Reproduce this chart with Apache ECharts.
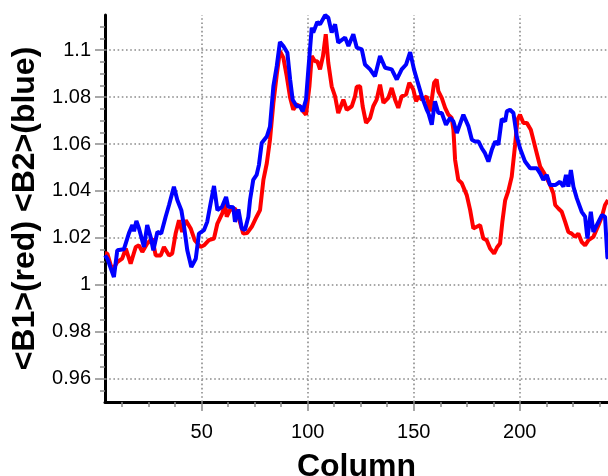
<!DOCTYPE html>
<html>
<head>
<meta charset="utf-8">
<script src="https://cdn.jsdelivr.net/npm/echarts@6/dist/echarts.min.js"></script>
<style>html,body{margin:0;padding:0;background:#fff}#c{width:608px;height:476px}</style>
</head>
<body>
<div id="c"></div>
<script>
// ---- data ----
const redCols = [4.4,5.5,7.8,10.2,12.5,14.2,16.5,18.9,20.4,22.0,24.3,26.7,28.3,30.7,32.2,34.6,36.1,37.7,39.3,40.8,42.5,44.8,46.7,49.5,51.1,53.4,55.8,57.4,59.7,61.0,61.8,63.3,65.7,67.3,69.6,71.4,73.6,75.9,77.5,79.1,80.7,82.2,83.8,85.4,86.9,88.5,90.1,91.7,93.2,94.8,96.4,97.9,99.2,100.8,101.9,103.4,104.5,105.8,107.2,108.5,109.7,111.3,112.9,114.4,116.8,118.4,120.8,122.3,123.1,124.7,125.9,127.5,129.4,130.9,132.5,134.1,135.7,138.0,139.6,141.2,142.7,144.3,146.4,147.9,149.8,151.1,152.2,153.8,156.1,157.7,159.6,160.8,161.6,163.2,164.8,166.3,167.9,168.7,169.5,171.0,172.6,175.0,176.6,178.1,179.7,181.3,182.8,184.4,186.0,187.9,189.4,190.7,191.8,193.1,194.6,196.2,197.8,198.9,200.1,201.7,203.3,205.2,206.4,208.0,209.6,211.1,212.7,214.3,215.8,216.7,218.2,219.8,221.4,222.9,224.5,226.1,227.6,229.2,230.8,232.4,234.7,237.1,238.7,240.2,241.6];
const redVals = [1.0134,1.0133,1.0061,1.0097,1.0111,1.0154,1.0090,1.0161,1.0168,1.0140,1.0176,1.0197,1.0125,1.0125,1.0161,1.0125,1.0133,1.0218,1.0275,1.0225,1.0275,1.0240,1.0190,1.0161,1.0168,1.0190,1.0197,1.0261,1.0304,1.0347,1.0290,1.0318,1.0325,1.0290,1.0218,1.0220,1.0247,1.0290,1.0318,1.0447,1.0518,1.0618,1.0775,1.0896,1.0996,1.0968,1.0889,1.0797,1.0746,1.0768,1.0761,1.0739,1.0725,1.0846,1.0975,1.0953,1.0953,1.0918,1.0975,1.1068,1.0946,1.0846,1.0803,1.0732,1.0789,1.0746,1.0761,1.0803,1.0844,1.0846,1.0761,1.0690,1.0711,1.0761,1.0789,1.0853,1.0775,1.0797,1.0839,1.0789,1.0754,1.0803,1.0811,1.0861,1.0832,1.0782,1.0803,1.0789,1.0803,1.0739,1.0861,1.0875,1.0825,1.0797,1.0754,1.0725,1.0711,1.0661,1.0532,1.0447,1.0434,1.0382,1.0318,1.0240,1.0247,1.0254,1.0197,1.0190,1.0154,1.0133,1.0161,1.0176,1.0270,1.0360,1.0400,1.0461,1.0597,1.0704,1.0725,1.0690,1.0690,1.0661,1.0618,1.0561,1.0504,1.0482,1.0455,1.0425,1.0390,1.0340,1.0325,1.0311,1.0268,1.0225,1.0218,1.0204,1.0218,1.0182,1.0168,1.0190,1.0204,1.0254,1.0290,1.0340,1.0361];
const blueCols = [4.4,5.5,8.6,10.2,13.3,15.7,17.3,18.1,19.2,20.4,22.8,24.3,25.9,27.2,29.1,30.9,33.0,34.6,36.9,38.5,40.4,41.7,43.2,45.1,47.2,48.7,51.1,52.6,54.2,55.8,57.4,59.6,61.5,62.5,64.9,65.7,67.3,68.9,70.4,72.0,72.8,74.3,75.9,77.0,78.3,80.7,82.2,83.8,85.4,86.9,88.5,90.4,91.7,92.9,94.8,96.4,97.6,99.2,100.3,101.9,102.6,104.5,105.8,108.2,109.7,111.3,112.9,114.4,117.6,119.2,121.5,123.1,125.5,127.0,129.4,131.7,134.1,136.5,139.6,142.0,144.3,146.4,148.3,150.1,151.7,153.8,156.1,156.9,158.5,160.0,161.6,163.2,165.2,167.1,168.7,170.3,173.4,175.8,177.4,178.9,180.5,182.1,183.6,185.2,186.8,188.4,189.9,191.5,193.1,193.9,195.4,197.0,198.6,200.1,202.5,204.9,208.0,209.6,211.1,212.7,214.3,216.7,219.0,220.6,221.8,222.9,224.1,225.3,226.9,229.2,230.8,231.9,233.5,234.7,236.3,238.7,240.2,241.3,241.6];
const blueVals = [1.0125,1.0111,1.0033,1.0147,1.0151,1.0220,1.0254,1.0228,1.0272,1.0241,1.0161,1.0254,1.0204,1.0147,1.0225,1.0218,1.0290,1.0340,1.0418,1.0361,1.0318,1.0247,1.0147,1.0075,1.0111,1.0218,1.0233,1.0268,1.0347,1.0421,1.0318,1.0332,1.0374,1.0332,1.0330,1.0268,1.0321,1.0240,1.0233,1.0290,1.0361,1.0447,1.0468,1.0511,1.0604,1.0632,1.0674,1.0846,1.0932,1.1035,1.1018,1.0989,1.0875,1.0789,1.0761,1.0761,1.0739,1.0789,1.0918,1.1096,1.1075,1.1120,1.1110,1.1149,1.1139,1.1075,1.1110,1.1032,1.1054,1.1018,1.1068,1.1011,1.1003,1.0939,1.0918,1.0889,1.0975,1.0925,1.0918,1.0875,1.0918,1.0939,1.0992,1.0918,1.0868,1.0803,1.0747,1.0732,1.0682,1.0782,1.0732,1.0732,1.0682,1.0711,1.0696,1.0647,1.0725,1.0675,1.0618,1.0611,1.0611,1.0582,1.0561,1.0525,1.0575,1.0611,1.0597,1.0707,1.0696,1.0739,1.0746,1.0732,1.0632,1.0582,1.0525,1.0497,1.0497,1.0475,1.0447,1.0468,1.0425,1.0425,1.0439,1.0418,1.0468,1.0418,1.0489,1.0418,1.0368,1.0311,1.0290,1.0197,1.0311,1.0225,1.0254,1.0297,1.0290,1.0118,1.0110];

// ---- axes / ticks ----
const xMajorTicks = [50, 100, 150, 200];
const xMinorTicks = [12.5, 25, 37.5, 62.5, 75, 87.5, 112.5, 125, 137.5, 162.5, 175, 187.5, 212.5, 225, 237.5];
const yMajorTicks = [0.96, 0.98, 1.0, 1.02, 1.04, 1.06, 1.08, 1.1];
const yMinorTicks = [0.955, 0.965, 0.97, 0.975, 0.985, 0.99, 0.995, 1.005, 1.01, 1.015, 1.025, 1.03, 1.035, 1.045, 1.05, 1.055, 1.065, 1.07, 1.075, 1.085, 1.09, 1.095, 1.105, 1.11];
const xRange = [4.4, 241.6];
const yRange = [0.95, 1.115];
const xTitle = 'Column';
const yTitle = '<B1>(red) <B2>(blue)';

const FONT = '"Liberation Sans", Arial, sans-serif';
const tickColor = '#8a8a8a';

const gridLines = xMajorTicks.map(v => ({ xAxis: v })).concat(yMajorTicks.map(v => ({ yAxis: v })));

const chart = echarts.init(document.getElementById('c'), null, { renderer: 'canvas' });
chart.setOption({
  animation: false,
  backgroundColor: '#fff',
  grid: { left: 105, right: 0, top: 15, bottom: 74, containLabel: false, outerBoundsMode: 'none' },
  xAxis: [
    {
      type: 'value', min: xRange[0], max: xRange[1], position: 'bottom',
      axisLine: { show: true, onZero: false, lineStyle: { color: '#000', width: 3 } },
      axisTick: { show: true, customValues: xMinorTicks, length: 5, lineStyle: { color: tickColor, width: 1.5 } },
      axisLabel: { show: false },
      splitLine: { show: false }
    },
    {
      type: 'value', min: xRange[0], max: xRange[1], position: 'bottom',
      axisLine: { show: false, onZero: false },
      axisTick: { show: true, customValues: xMajorTicks, length: 9, lineStyle: { color: tickColor, width: 1.5 } },
      axisLabel: { show: true, customValues: xMajorTicks, fontSize: 20, color: '#000', fontFamily: FONT, margin: 20 },
      splitLine: { show: false },
      name: xTitle, nameLocation: 'middle', nameGap: 49,
      nameTextStyle: { fontSize: 32, fontWeight: 'bold', color: '#000', fontFamily: FONT }
    }
  ],
  yAxis: [
    {
      type: 'value', min: yRange[0], max: yRange[1], position: 'left',
      axisLine: { show: true, onZero: false, lineStyle: { color: '#000', width: 3 } },
      axisTick: { show: true, customValues: yMinorTicks, length: 5, lineStyle: { color: tickColor, width: 1.5 } },
      axisLabel: { show: false },
      splitLine: { show: false }
    },
    {
      type: 'value', min: yRange[0], max: yRange[1], position: 'left',
      axisLine: { show: false, onZero: false },
      axisTick: { show: true, customValues: yMajorTicks, length: 10, lineStyle: { color: tickColor, width: 1.5 } },
      axisLabel: { show: true, customValues: yMajorTicks, fontSize: 20, color: '#000', fontFamily: FONT, margin: 14,
        formatter: v => String(+(+v).toFixed(2)) },
      splitLine: { show: false },
      name: yTitle, nameLocation: 'middle', nameGap: 61,
      nameTextStyle: { fontSize: 32, fontWeight: 'bold', color: '#000', fontFamily: FONT }
    }
  ],
  series: [
    {
      name: 'B1', type: 'line', xAxisIndex: 0, yAxisIndex: 0, z: 3,
      data: redCols.map((c, i) => [c, redVals[i]]),
      showSymbol: false, symbol: 'none', smooth: false,
      lineStyle: { color: '#ff0000', width: 4 },
      markLine: {
        silent: true, symbol: 'none', z: 1, animation: false,
        label: { show: false },
        lineStyle: { color: '#8c8c8c', type: [1.6, 2.6], width: 1.6 },
        data: gridLines
      }
    },
    {
      name: 'B2', type: 'line', xAxisIndex: 0, yAxisIndex: 0, z: 4,
      data: blueCols.map((c, i) => [c, blueVals[i]]),
      showSymbol: false, symbol: 'none', smooth: false,
      lineStyle: { color: '#0000ff', width: 4 }
    }
  ]
});
</script>
</body>
</html>
